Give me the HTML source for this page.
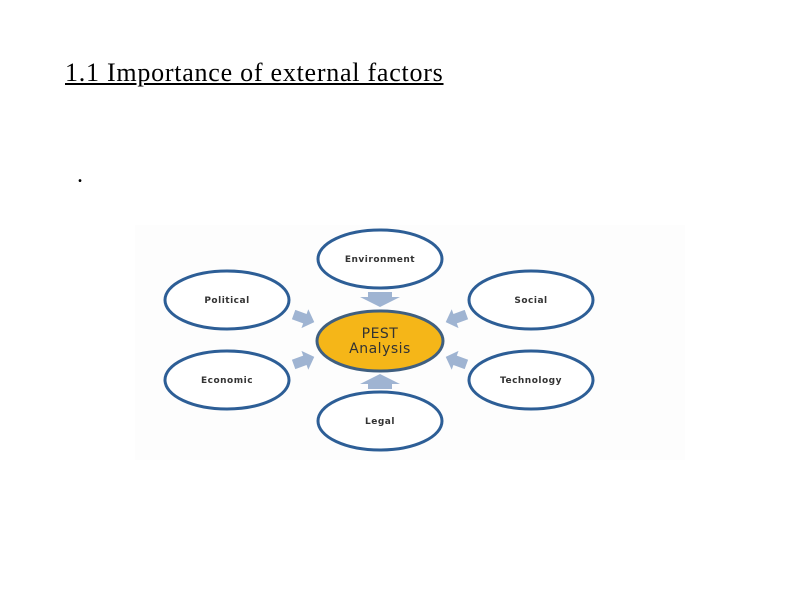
<!DOCTYPE html>
<html><head><style>
body{margin:0;width:794px;height:596px;background:#fff;position:relative;overflow:hidden;font-family:"Liberation Serif",serif}
.t{position:absolute;left:65px;top:58px;font-size:26px;letter-spacing:0.75px;text-decoration:underline;color:#000;white-space:nowrap}
.d{position:absolute;left:77px;top:162px;font-size:24px}
svg{position:absolute;left:0;top:0}
</style></head><body>
<div class="t">1.1 Importance of external factors</div>
<div class="d">.</div>
<svg width="794" height="596" font-family="DejaVu Sans, sans-serif">
<rect x="135" y="225" width="550" height="235" fill="#fdfdfd"/>
<g fill="#fff" stroke="#2d5e96" stroke-width="3">
<ellipse cx="380" cy="259" rx="62" ry="29"/>
<ellipse cx="227" cy="300" rx="62" ry="29"/>
<ellipse cx="531" cy="300" rx="62" ry="29"/>
<ellipse cx="227" cy="380" rx="62" ry="29"/>
<ellipse cx="531" cy="380" rx="62" ry="29"/>
<ellipse cx="380" cy="421" rx="62" ry="29"/>
</g>
<ellipse cx="380" cy="341" rx="63" ry="30" fill="#f5b618" stroke="#3f5f80" stroke-width="3"/>
<g fill="#9fb4d2">
<polygon points="368,292 392,292 392,297 400,297 380,307 360,297 368,297"/>
<polygon points="368,389 392,389 392,384 400,384 380,374 360,384 368,384"/>
<g transform="translate(303,318) rotate(20)"><polygon points="-10,-5 2,-5 2,-10 12,0 2,10 2,5 -10,5"/></g>
<g transform="translate(303,361) rotate(-20)"><polygon points="-10,-5 2,-5 2,-10 12,0 2,10 2,5 -10,5"/></g>
<g transform="translate(457,318) rotate(160)"><polygon points="-10,-5 2,-5 2,-10 12,0 2,10 2,5 -10,5"/></g>
<g transform="translate(457,361) rotate(200)"><polygon points="-10,-5 2,-5 2,-10 12,0 2,10 2,5 -10,5"/></g>
</g>
<g font-size="9" fill="#333" text-anchor="middle" font-weight="bold" letter-spacing="0.5">
<text x="380" y="262">Environment</text>
<text x="227" y="303">Political</text>
<text x="531" y="303">Social</text>
<text x="227" y="383">Economic</text>
<text x="531" y="383">Technology</text>
<text x="380" y="424">Legal</text>
</g>
<g font-size="14" fill="#333" text-anchor="middle" letter-spacing="0.5">
<text x="380" y="338">PEST</text>
<text x="380" y="353">Analysis</text>
</g>
</svg>
</body></html>
